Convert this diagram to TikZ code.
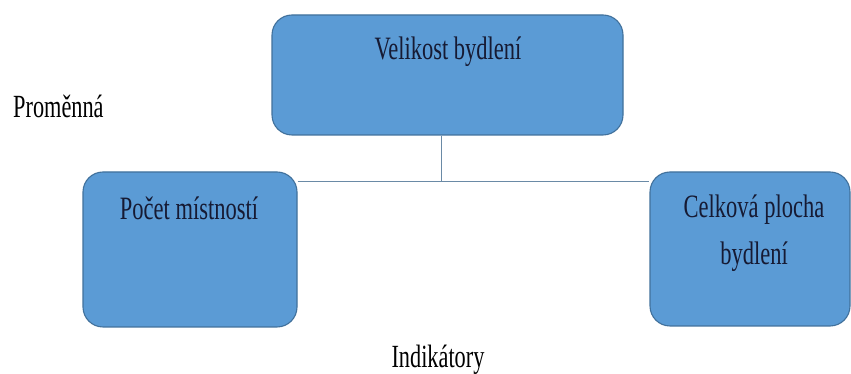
\documentclass[tikz,border=0pt]{standalone}
\usepackage{fontspec}
\setmainfont{Liberation Serif}
\usetikzlibrary{backgrounds}
\definecolor{boxfill}{HTML}{5B9BD5}
\definecolor{boxline}{HTML}{41719C}
\definecolor{linkline}{HTML}{6A8AA6}
\definecolor{boxtext}{HTML}{161A33}
\tikzset{
  boxshape/.style={draw=boxline, line width=1.1pt, fill=boxfill, rounded corners=20pt,
    inner sep=0pt},
  boxlabel/.style={anchor=base, inner sep=0pt, text=boxtext, font=\fontsize{22.5}{27}\selectfont},
  plainlabel/.style={inner sep=0pt, text=black, font=\fontsize{22.3}{27}\selectfont},
  link/.style={draw=linkline, line width=0.9pt}
}
\newcommand{\tallbox}[1]{\scalebox{1}[1.45]{#1}}
\begin{document}
\begin{tikzpicture}[x=1pt,y=1pt]
  \useasboundingbox (0,0) rectangle (851,374);
  % boxes
  \node[boxshape, minimum width=351pt, minimum height=120pt] (top) at (447.5,299) {};
  \node[boxshape, minimum width=214pt, minimum height=155pt] (left) at (190,124.5) {};
  \node[boxshape, minimum width=200pt, minimum height=154pt] (right) at (750,125) {};
  % box texts
  \node[boxlabel] (toptext) at (448,314) {\tallbox{Velikost bydlení}};
  \node[boxlabel] (lefttext) at (189,154) {\tallbox{Počet místností}};
  \node[boxlabel] (righttext1) at (754,156) {\tallbox{Celková plocha}};
  \node[boxlabel] (righttext2) at (754,109) {\tallbox{bydlení}};
  % free labels
  \node[plainlabel, anchor=base west] (varlabel) at (13,256) {\tallbox{Proměnná}};
  \node[plainlabel, anchor=base] (indlabel) at (438,6) {\tallbox{Indikátory}};
  % connectors, drawn behind the boxes on a white ground
  \coordinate (junction) at (441,192.5);
  \begin{scope}[on background layer]
    \fill[white] (0,0) rectangle (851,374);
    \draw[link] (top.south -| junction) -- (junction);
    \draw[link] (left.east |- junction) -- (right.west |- junction);
  \end{scope}
\end{tikzpicture}
\end{document}
